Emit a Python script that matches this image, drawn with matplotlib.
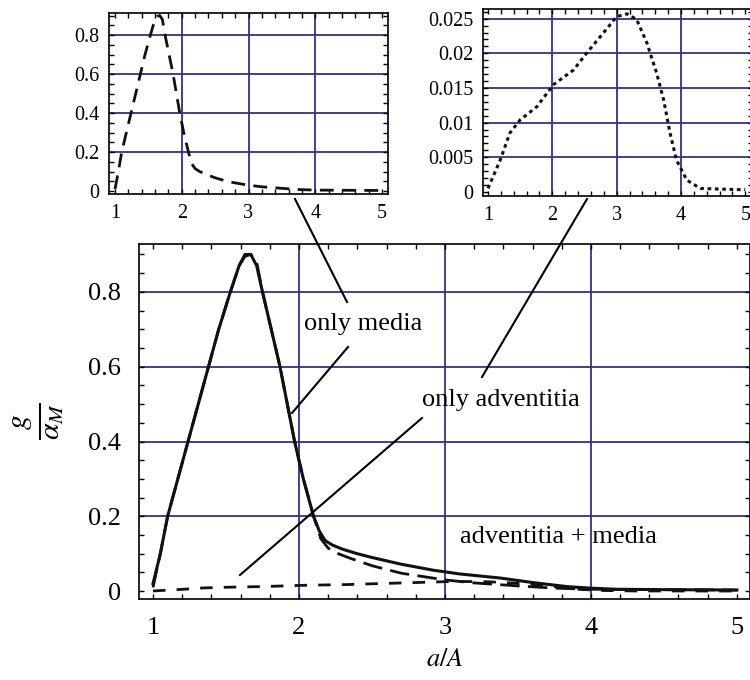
import numpy as np
import matplotlib
matplotlib.use("Agg")
import matplotlib.pyplot as plt
from matplotlib.lines import Line2D
from matplotlib.ticker import MultipleLocator, FuncFormatter

plt.rcParams['font.family'] = ['Liberation Serif', 'DejaVu Serif']
plt.rcParams['mathtext.fontset'] = 'stix'

# adventitia + media (solid, main plot)
both_x = [1.0, 1.05, 1.1, 1.17, 1.24, 1.31, 1.38, 1.45, 1.53, 1.59, 1.63, 1.67, 1.71,
          1.75, 1.81, 1.87, 1.92, 1.97, 2.03, 2.1, 2.14, 2.18, 2.23, 2.3, 2.4, 2.5,
          2.7, 2.92, 3.1, 3.38, 3.6, 3.84, 4.0, 4.18, 4.5, 5.0]
both_y = [0.02, 0.1, 0.2, 0.3, 0.4, 0.5, 0.6, 0.7, 0.8, 0.87, 0.9, 0.9, 0.87,
          0.8, 0.7, 0.6, 0.5, 0.4, 0.3, 0.2, 0.16, 0.135, 0.123, 0.112, 0.1, 0.09,
          0.072, 0.056, 0.046, 0.035, 0.023, 0.012, 0.008, 0.005, 0.004, 0.003]

# only media (dashed)
media_x = [1.0, 1.05, 1.1, 1.17, 1.24, 1.31, 1.38, 1.45, 1.53, 1.59, 1.63, 1.67, 1.71,
           1.75, 1.81, 1.87, 1.92, 1.97, 2.03, 2.1, 2.15, 2.2, 2.27, 2.35, 2.5, 2.7,
           3.0, 3.2, 3.5, 3.75, 4.0, 4.5, 5.0]
media_y = [0.01, 0.1, 0.2, 0.3, 0.4, 0.5, 0.6, 0.7, 0.8, 0.87, 0.895, 0.9, 0.88,
           0.8, 0.7, 0.6, 0.5, 0.4, 0.3, 0.2, 0.14, 0.115, 0.1, 0.088, 0.068, 0.048,
           0.03, 0.022, 0.014, 0.008, 0.005, 0.004, 0.003]

# only adventitia (dotted in inset, dashed in main)
adv_x = [1.0, 1.19, 1.34, 1.5, 1.76, 2.02, 2.33, 2.53, 2.79, 3.0, 3.16, 3.31, 3.47,
         3.62, 3.73, 3.83, 3.93, 4.09, 4.3, 4.6, 5.0]
adv_y = [0.0005, 0.0046, 0.0085, 0.0104, 0.0123, 0.0155, 0.0176, 0.020, 0.0229,
         0.0253, 0.0257, 0.0249, 0.0215, 0.0172, 0.0133, 0.0085, 0.0046, 0.0017,
         0.0005, 0.0004, 0.0003]

main_xticks = [1, 2, 3, 4, 5]
main_yticks = [0, 0.2, 0.4, 0.6, 0.8]
adv_yticks = [0, 0.005, 0.01, 0.015, 0.02, 0.025]

grid_c = '#33337f'
W, H = 750, 680
fig = plt.figure(figsize=(7.5, 6.8), dpi=100)


def style(ax, fs, pad, xminor, yminor, xgrid, ygrid):
    for s in ax.spines.values():
        s.set_linewidth(1.2)
    ax.tick_params(which='both', direction='in', top=True, right=True,
                   length=3.5, width=1.0, labelsize=fs, pad=pad)
    ax.xaxis.set_minor_locator(MultipleLocator(xminor))
    ax.yaxis.set_minor_locator(MultipleLocator(yminor))
    ax.yaxis.set_major_formatter(FuncFormatter(lambda v, p: '%g' % v))
    for v in xgrid:
        ax.axvline(v, color=grid_c, lw=1.3, zorder=0.5)
    for v in ygrid:
        ax.axhline(v, color=grid_c, lw=1.3, zorder=0.5)


# main plot
ax = fig.add_axes([139 / W, 1 - 599 / H, 611 / W, 355 / H])
ax.plot(both_x, both_y, color='#111111', lw=2.2, solid_joinstyle='round')
ax.plot(media_x, media_y, color='#111111', lw=2.0, dashes=(7, 3))
ax.plot(adv_x, adv_y, color='#111111', lw=2.0, dashes=(4.5, 4))
ax.set_xlim(0.904, 5.09)
ax.set_ylim(-0.021, 0.928)
ax.set_xticks(main_xticks)
ax.set_yticks(main_yticks)
style(ax, 19, 13, 0.2, 0.05, main_xticks[1:-1], main_yticks[1:])
ax.set_xlabel(r'$a/A$', fontsize=19, labelpad=7)
ax.set_ylabel(r'$\frac{g}{\alpha_M}$', fontsize=31, rotation=90, labelpad=16)

ax.text(2.44, 0.714, 'only media', fontsize=19, ha='center', va='center')
ax.text(3.38, 0.511, 'only adventitia', fontsize=19, ha='center', va='center')
ax.text(3.78, 0.144, 'adventitia + media', fontsize=19, ha='center', va='center')

# inset: only media
ax1 = fig.add_axes([109 / W, 1 - 194 / H, 279 / W, 181 / H])
ax1.plot(media_x, media_y, color='#111111', lw=2.0, dashes=(5, 3))
ax1.set_xlim(0.91, 5.09)
ax1.set_ylim(-0.015, 0.913)
ax1.set_xticks(main_xticks)
ax1.set_yticks(main_yticks)
style(ax1, 14.5, 7, 0.2, 0.05, main_xticks[1:-1], main_yticks[1:])

# inset: only adventitia
ax2 = fig.add_axes([483 / W, 1 - 196 / H, 270 / W, 187 / H])
ax2.plot(adv_x, adv_y, color='#111111', lw=2.2, dashes=(1.2, 1.2))
ax2.set_xlim(0.922, 5.12)
ax2.set_ylim(-0.0006, 0.0264)
ax2.set_xticks(main_xticks)
ax2.set_yticks(adv_yticks)
style(ax2, 14.5, 7, 0.2, 0.001, main_xticks[1:-1], adv_yticks[1:])

# connector lines (figure pixels)
connectors = [((295, 199), (347, 302)),
              ((348, 347), (292, 413)),
              ((587, 199), (482, 377)),
              ((422, 418), (240, 575))]
for (x0, y0), (x1, y1) in connectors:
    fig.add_artist(Line2D([x0 / W, x1 / W], [1 - y0 / H, 1 - y1 / H],
                          transform=fig.transFigure, color='black', lw=1.5))

fig.savefig('out.png', dpi=100)
